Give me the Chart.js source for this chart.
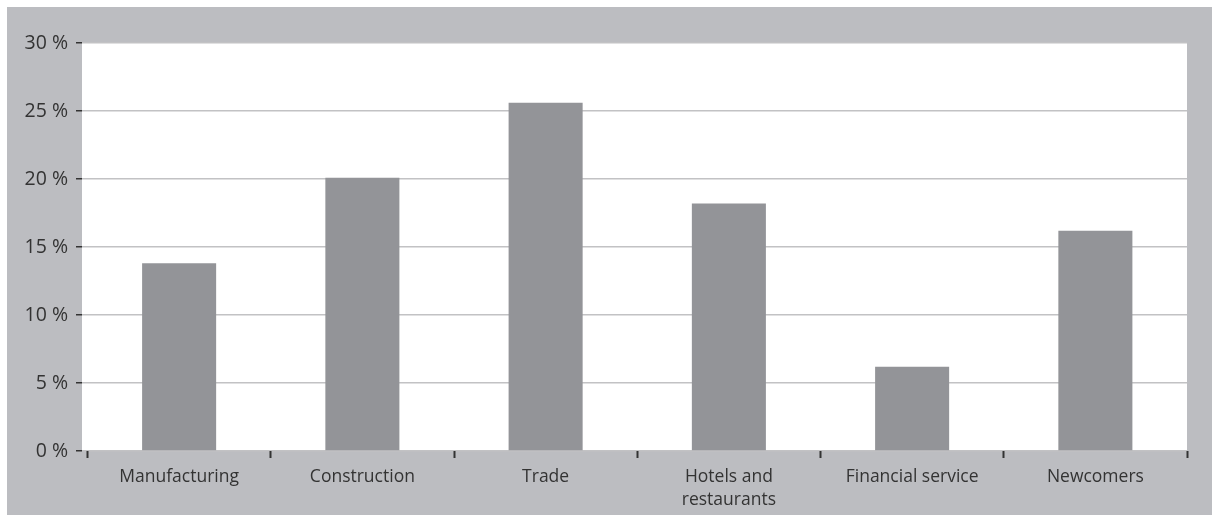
<!DOCTYPE html>
<html>
<head>
<meta charset="utf-8">
<script src="https://cdn.jsdelivr.net/npm/chart.js@4/dist/chart.umd.min.js"></script>
<style>
html,body{margin:0;padding:0;background:#fff;}
#wrap{width:1212px;height:525px;position:relative;}
</style>
</head>
<body>
<div id="wrap"><canvas id="c" width="1212" height="525"></canvas></div>
<script>
const categories = ['Manufacturing', 'Construction', 'Trade', ['Hotels and', 'restaurants'], 'Financial service', 'Newcomers'];
const shares = [13.8, 20.1, 25.6, 18.2, 6.2, 16.2];
const yTicks = [0, 5, 10, 15, 20, 25, 30];

const canvas = document.getElementById('c');
const ctx0 = canvas.getContext('2d');
// tick mark dark outside the white panel, gridline grey inside it
const yTickGrad = ctx0.createLinearGradient(76, 0, 88, 0);
yTickGrad.addColorStop(0, '#333333');
yTickGrad.addColorStop(0.5, '#333333');
yTickGrad.addColorStop(0.5, '#c2c2c4');
yTickGrad.addColorStop(1, '#c2c2c4');

const bgPlugin = {
  id: 'bg',
  beforeDraw(chart) {
    const ctx = chart.ctx, a = chart.chartArea;
    ctx.save();
    ctx.fillStyle = '#ffffff';
    ctx.fillRect(0, 0, chart.width, chart.height);
    ctx.fillStyle = '#bcbdc1';
    ctx.fillRect(7, 7, chart.width - 7, 508);
    ctx.fillStyle = '#ffffff';
    ctx.fillRect(82, a.top, a.right - 82, a.bottom - a.top);
    ctx.restore();
  }
};

new Chart(canvas, {
  type: 'bar',
  data: {
    labels: categories,
    datasets: [{
      data: shares,
      backgroundColor: '#939498',
      borderWidth: 0,
      barPercentage: 0.404,
      categoryPercentage: 1.0
    }]
  },
  options: {
    responsive: false,
    animation: false,
    events: [],
    layout: { padding: { left: 0, top: 43, right: 25, bottom: 0 } },
    plugins: { legend: { display: false }, tooltip: { enabled: false } },
    scales: {
      y: {
        min: 0, max: 30,
        afterFit(s) { s.width = 87.5; },
        afterBuildTicks(s) { s.ticks = yTicks.map(v => ({ value: v })); },
        border: { display: false },
        grid: { color: '#c2c2c4', lineWidth: 1.5, tickLength: 11.5, tickColor: yTickGrad, tickWidth: 1.5 },
        ticks: {
          color: '#333333', padding: 8,
          font: { family: 'Open Sans', size: 19.5 },
          callback: v => v + ' %'
        }
      },
      x: {
        afterFit(s) { s.height = 74; },
        border: { display: false },
        grid: { drawOnChartArea: false, tickLength: 7, tickColor: '#333333', tickWidth: 2 },
        ticks: {
          color: '#333333', padding: 7, maxRotation: 0, autoSkip: false,
          font: { family: 'Open Sans', size: 17.5, lineHeight: 1.35 }
        }
      }
    }
  },
  plugins: [bgPlugin]
});
</script>
</body>
</html>
